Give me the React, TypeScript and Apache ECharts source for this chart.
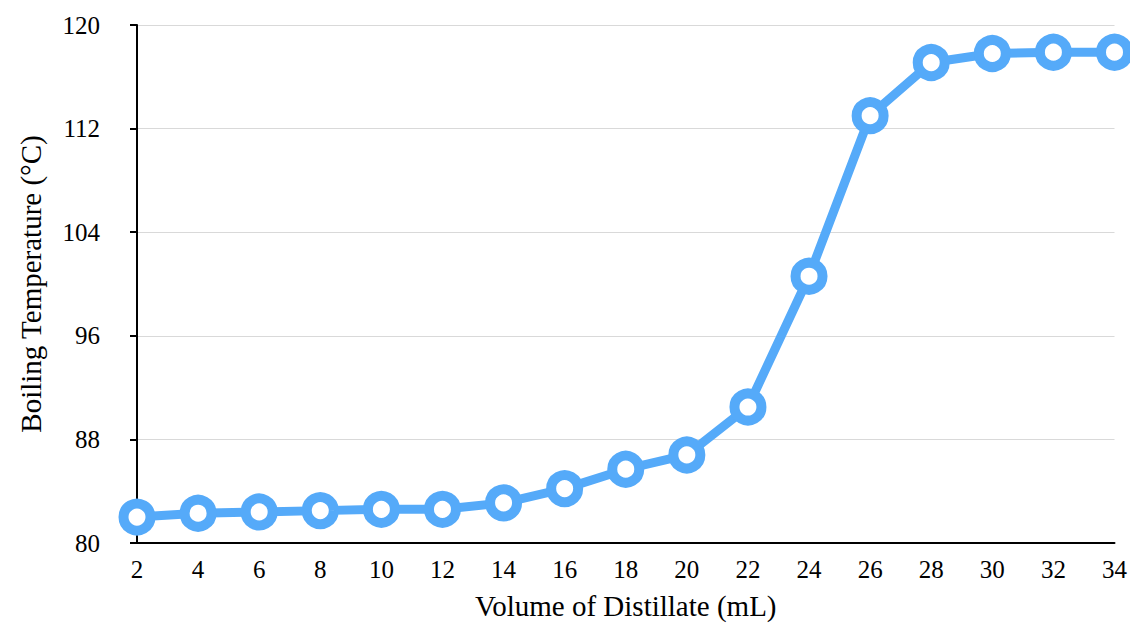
import React, { useEffect, useRef } from "react";
import * as echarts from "echarts";

const volumes = [2, 4, 6, 8, 10, 12, 14, 16, 18, 20, 22, 24, 26, 28, 30, 32, 34];
const temps = [82.0, 82.3, 82.4, 82.5, 82.6, 82.6, 83.1, 84.2, 85.7, 86.8, 90.5, 100.6, 113.0, 117.1, 117.8, 117.9, 117.9];
const xTitle = "Volume of Distillate (mL)";
const yTitle = "Boiling Temperature (°C)";

export default function App() {
  const ref = useRef<HTMLDivElement>(null);
  useEffect(() => {
    if (!ref.current) return;
    const chart = echarts.init(ref.current, null, { renderer: "svg" });
    const font = "'Liberation Serif', 'Times New Roman', serif";
    chart.setOption({
      animation: false,
      textStyle: { fontFamily: font },
      grid: { left: 125, right: 10, top: 17, bottom: 76, containLabel: false },
      xAxis: {
        type: "value",
        min: 2,
        max: 34,
        interval: 2,
        name: xTitle,
        nameLocation: "middle",
        nameGap: 48,
        nameTextStyle: { fontFamily: font, fontSize: 29, color: "#000" },
        axisLine: { show: true, lineStyle: { color: "#000", width: 2 } },
        axisTick: { show: false },
        splitLine: { show: false },
        axisLabel: { fontFamily: font, fontSize: 25, color: "#000", margin: 14 },
      },
      yAxis: {
        type: "value",
        min: 80,
        max: 120,
        interval: 8,
        name: yTitle,
        nameLocation: "middle",
        nameGap: 92,
        nameTextStyle: { fontFamily: font, fontSize: 29, color: "#000" },
        axisLine: { show: true, lineStyle: { color: "#000", width: 2 } },
        axisTick: { show: true, length: 7, lineStyle: { color: "#000", width: 2 } },
        splitLine: { show: true, lineStyle: { color: "#d9d9d9", width: 1 } },
        axisLabel: { fontFamily: font, fontSize: 25, color: "#000", margin: 37 },
      },
      series: [
        {
          type: "line",
          data: volumes.map((v, i) => [v, temps[i]]),
          symbol: "circle",
          symbolSize: 27,
          showAllSymbol: true,
          lineStyle: { color: "#55aaf9", width: 9 },
          itemStyle: { color: "#ffffff", borderColor: "#55aaf9", borderWidth: 10 },
          clip: false,
          z: 3,
        },
      ],
    });
    return () => chart.dispose();
  }, []);
  return <div ref={ref} style={{ width: 1122, height: 617 }} />;
}
